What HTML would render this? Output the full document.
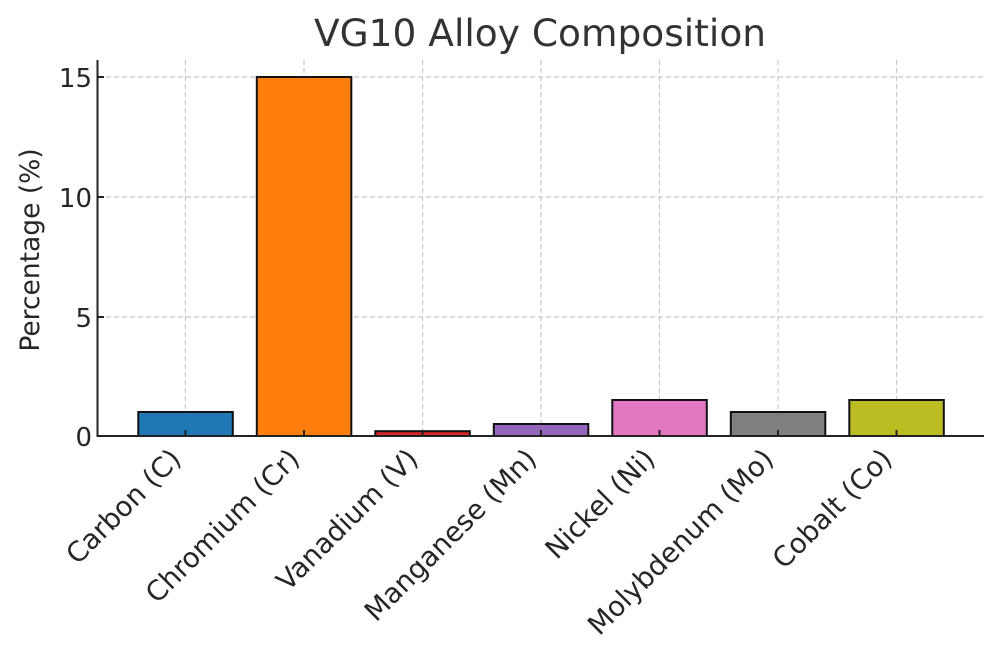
<!DOCTYPE html>
<html><head><style>html,body{margin:0;padding:0;background:#fff}svg{display:block}</style></head>
<body>
<svg width="1000" height="661" xmlns="http://www.w3.org/2000/svg" font-family="DejaVu Sans, Liberation Sans, sans-serif" fill="#262626">
<text x="540" y="46" font-size="37.5" text-anchor="middle" fill="#333">VG10 Alloy Composition</text>
<g stroke="#c8c8c8" stroke-width="1.2" stroke-dasharray="5,3">
<line x1="98" x2="984" y1="317" y2="317"/><line x1="98" x2="984" y1="197" y2="197"/><line x1="98" x2="984" y1="77" y2="77"/>
<line x1="185.5" x2="185.5" y1="60" y2="436"/><line x1="304" x2="304" y1="60" y2="436"/><line x1="422.5" x2="422.5" y1="60" y2="436"/><line x1="541" x2="541" y1="60" y2="436"/><line x1="659.5" x2="659.5" y1="60" y2="436"/><line x1="778" x2="778" y1="60" y2="436"/><line x1="896.5" x2="896.5" y1="60" y2="436"/>
</g>
<g stroke="#111" stroke-width="2">
<rect x="138.3" y="412" width="94.5" height="24" fill="#1f77b4"/>
<rect x="256.8" y="77" width="94.5" height="359" fill="#ff7f0e"/>
<rect x="375.3" y="431.2" width="94.5" height="4.8" fill="#d62728"/>
<rect x="493.8" y="424" width="94.5" height="12" fill="#9467bd"/>
<rect x="612.3" y="400" width="94.5" height="36" fill="#e377c2"/>
<rect x="730.8" y="412" width="94.5" height="24" fill="#7f7f7f"/>
<rect x="849.3" y="400" width="94.5" height="36" fill="#bcbd22"/>
</g>
<g stroke="#222" stroke-width="2">
<line x1="97.5" x2="97.5" y1="60" y2="437"/><line x1="96.5" x2="984" y1="436" y2="436"/>
<line x1="98" x2="104" y1="317" y2="317"/><line x1="98" x2="104" y1="197" y2="197"/><line x1="98" x2="104" y1="77" y2="77"/>
<line x1="185.5" x2="185.5" y1="430" y2="436"/><line x1="304" x2="304" y1="430" y2="436"/><line x1="422.5" x2="422.5" y1="430" y2="436"/><line x1="541" x2="541" y1="430" y2="436"/><line x1="659.5" x2="659.5" y1="430" y2="436"/><line x1="778" x2="778" y1="430" y2="436"/><line x1="896.5" x2="896.5" y1="430" y2="436"/>
</g>
<g font-size="26" text-anchor="end">
<text x="92" y="446">0</text><text x="92" y="327">5</text><text x="92" y="207">10</text><text x="92" y="87">15</text>
</g>
<text transform="translate(39,250) rotate(-90)" font-size="26.5" text-anchor="middle">Percentage (%)</text>
<g font-size="27.5" text-anchor="end">
<text transform="translate(168,446) rotate(-45)" dy="0.75em">Carbon (C)</text>
<text transform="translate(286.5,446) rotate(-45)" dy="0.75em">Chromium (Cr)</text>
<text transform="translate(405,446) rotate(-45)" dy="0.75em">Vanadium (V)</text>
<text transform="translate(523.5,446) rotate(-45)" dy="0.75em">Manganese (Mn)</text>
<text transform="translate(642,446) rotate(-45)" dy="0.75em">Nickel (Ni)</text>
<text transform="translate(760.5,446) rotate(-45)" dy="0.75em">Molybdenum (Mo)</text>
<text transform="translate(879,446) rotate(-45)" dy="0.75em">Cobalt (Co)</text>
</g>
</svg>
</body></html>
